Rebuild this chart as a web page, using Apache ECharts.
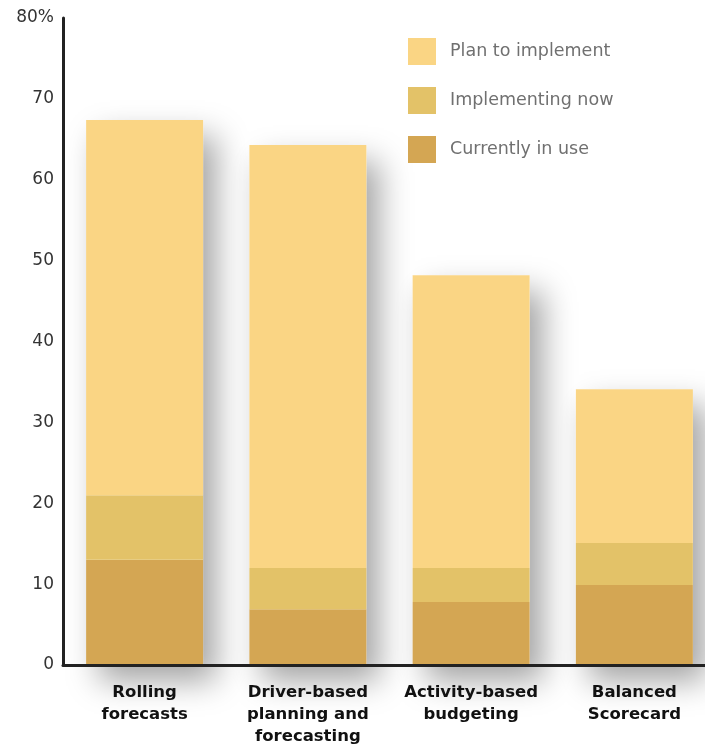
<!DOCTYPE html>
<html>
<head>
    <meta charset="utf-8"/>
    <title>Planning methods</title>
    <script src="https://cdn.jsdelivr.net/npm/echarts@6/dist/echarts.min.js"></script>
    <style>
        html, body { margin: 0; padding: 0; background: #fff; }
        #chart { width: 705px; height: 745px; }
    </style>
</head>
<body>
<div id="chart"></div>
<script>
    var categories = ['Rolling\nforecasts', 'Driver-based\nplanning and\nforecasting', 'Activity-based\nbudgeting', 'Balanced\nScorecard'];
    var currentlyInUse = [13, 6.9, 7.8, 9.9];
    var implementingNow = [8, 5.1, 4.2, 5.2];
    var planToImplement = [46.4, 52.3, 36.2, 19.0];
    var yTicks = [0, 10, 20, 30, 40, 50, 60, 70, 80];

    var font = '"DejaVu Sans", Verdana, sans-serif';

    // totals only feed the soft drop shadow drawn behind each column
    var totals = categories.map(function (c, i) {
        return currentlyInUse[i] + implementingNow[i] + planToImplement[i];
    });

    function bar(name, data, color) {
        return {
            name: name,
            type: 'bar',
            stack: 'all',
            data: data,
            barWidth: 117,
            itemStyle: {color: color},
            emphasis: {disabled: true},
            z: 3
        };
    }

    var chart = echarts.init(document.getElementById('chart'));
    chart.setOption({
        animation: false,
        textStyle: {fontFamily: font},
        grid: {left: 63, width: 653, top: 18, height: 647, outerBoundsMode: 'none', containLabel: false},
        legend: {
            orient: 'vertical',
            left: 403,
            top: 33,
            itemWidth: 28,
            itemHeight: 27,
            itemGap: 22,
            icon: 'rect',
            data: ['Plan to implement', 'Implementing now', 'Currently in use'],
            textStyle: {fontSize: 17.5, color: '#707070', fontFamily: font, padding: [0, 0, 0, 9]}
        },
        xAxis: {
            type: 'category',
            data: categories,
            axisLine: {lineStyle: {color: '#222', width: 3}},
            axisTick: {show: false},
            axisLabel: {
                interval: 0,
                margin: 17,
                fontSize: 16.5,
                fontWeight: 'bold',
                lineHeight: 22,
                color: '#111',
                fontFamily: font
            },
            z: 10
        },
        yAxis: {
            type: 'value',
            min: 0,
            max: yTicks[yTicks.length - 1],
            interval: 10,
            axisLine: {show: true, lineStyle: {color: '#222', width: 3}},
            axisTick: {show: false},
            splitLine: {show: false},
            axisLabel: {
                margin: 9,
                fontSize: 17,
                color: '#333',
                fontFamily: font,
                formatter: function (v) { return v === 80 ? '80%' : String(v); }
            },
            z: 10
        },
        series: [
            {
                name: 'shadow',
                type: 'bar',
                data: totals,
                barWidth: 117,
                barGap: '-100%',
                itemStyle: {
                    color: '#fff',
                    shadowBlur: 30,
                    shadowOffsetX: 13,
                    shadowOffsetY: 16,
                    shadowColor: 'rgba(0,0,0,0.36)'
                },
                emphasis: {disabled: true},
                silent: true,
                z: 1
            },
            bar('Currently in use', currentlyInUse, '#d4a653'),
            bar('Implementing now', implementingNow, '#e3c268'),
            bar('Plan to implement', planToImplement, '#fad584')
        ]
    });
</script>
</body>
</html>
